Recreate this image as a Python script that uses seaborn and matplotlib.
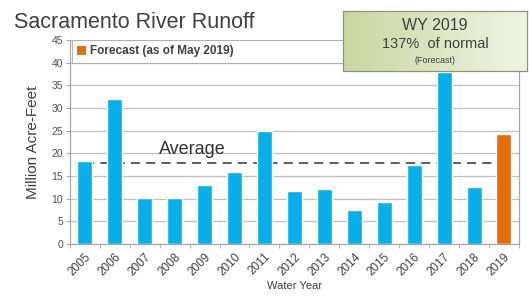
import numpy as np
import pandas as pd
import seaborn as sns
import matplotlib.pyplot as plt
from matplotlib.patches import Patch
from matplotlib.colors import LinearSegmentedColormap

years = ['2005', '2006', '2007', '2008', '2009', '2010', '2011', '2012',
         '2013', '2014', '2015', '2016', '2017', '2018', '2019']
runoff = [18.3, 32.0, 10.2, 10.2, 13.0, 16.0, 25.0, 11.8,
          12.2, 7.5, 9.2, 17.5, 37.9, 12.7, 24.3]
kind = ['Observed'] * 14 + ['Forecast']
average = 18.0
y_ticks = [0, 5, 10, 15, 20, 25, 30, 35, 40, 45]


def main():
    df = pd.DataFrame({'Year': years, 'Runoff': runoff, 'Kind': kind})

    sns.set_style('white')
    plt.rcParams['font.family'] = ['Liberation Sans', 'DejaVu Sans']

    fig = plt.figure(figsize=(5.29, 3.04), dpi=100)
    ax = fig.add_axes([0.132, 0.197, 0.849, 0.671])

    palette = {'Observed': '#0AAEEA', 'Forecast': '#E46C0A'}
    sns.barplot(data=df, x='Year', y='Runoff', hue='Kind', palette=palette,
                width=0.5, dodge=False, legend=False, ax=ax, zorder=3,
                saturation=1)

    # average line behind the bars
    ax.plot([0, len(years) - 1], [average, average], ls=(0, (6, 4)),
            color='#333333', lw=1.1, zorder=2)
    ax.text(3.6, average + 1.0, 'Average', fontsize=13, color='#333333',
            ha='center', va='bottom', zorder=4)

    ax.set_ylim(0, 45)
    ax.set_xlim(-0.5, len(years) - 0.5)
    ax.set_yticks(y_ticks)
    ax.yaxis.grid(True, color='#BFBFBF', lw=0.9, zorder=0)
    ax.set_axisbelow(True)
    ax.spines['top'].set_visible(False)
    for s in ['left', 'bottom', 'right']:
        ax.spines[s].set_color('#A6A6A6')
        ax.spines[s].set_linewidth(0.9)

    ax.tick_params(axis='y', labelsize=7.5, colors='#A6A6A6', labelcolor='#505050',
                   length=3, left=True, pad=2)
    ax.tick_params(axis='x', labelsize=8.5, labelcolor='#404040', length=0, pad=5)
    ax.set_xticks(np.arange(-0.5, len(years) + 0.5, 1), minor=True)
    ax.tick_params(axis='x', which='minor', length=3, colors='#A6A6A6',
                   bottom=True)
    plt.setp(ax.get_xticklabels(), rotation=45, ha='right',
             rotation_mode='anchor')

    ax.set_xlabel('Water Year', fontsize=8, color='#404040', labelpad=2)
    ax.set_ylabel('Million Acre-Feet', fontsize=11, color='#404040', labelpad=8)

    handle = Patch(facecolor='#E46C0A', edgecolor='none')
    leg = ax.legend([handle], ['Forecast (as of May 2019)'], loc='upper left',
                    bbox_to_anchor=(0.004, 0.0, 0.62, 1.0), mode='expand',
                    frameon=True, fancybox=False,
                    prop={'weight': 'bold', 'size': 8.5}, handlelength=0.8,
                    handleheight=0.8, handletextpad=0.3, borderpad=0.45,
                    borderaxespad=0.0)
    leg.get_frame().set_edgecolor('#A6A6A6')
    leg.get_frame().set_linewidth(0.8)
    for t in leg.get_texts():
        t.set_color('#404040')

    fig.text(0.026, 0.925, 'Sacramento River Runoff', fontsize=15.5,
             color='#404040', ha='left', va='center')

    # callout box with green gradient
    box = fig.add_axes([343 / 529, 1 - 71 / 304, 184 / 529, 60 / 304])
    grad = np.linspace(0, 1, 256).reshape(1, -1)
    cmap = LinearSegmentedColormap.from_list('g', ['#C9D6A3', '#F0F4E2'])
    box.imshow(grad, aspect='auto', cmap=cmap, extent=[0, 1, 0, 1])
    box.set_xticks([])
    box.set_yticks([])
    for s in box.spines.values():
        s.set_color('#8C9670')
        s.set_linewidth(0.9)
    box.text(0.5, 0.75, 'WY 2019', fontsize=11.5, ha='center', va='center',
             color='#404040')
    box.text(0.5, 0.45, '137%  of normal', fontsize=10.5, ha='center',
             va='center', color='#404040')
    box.text(0.5, 0.17, '(Forecast)', fontsize=6.5, ha='center', va='center',
             color='#404040')

    fig.savefig('out.png', dpi=100)


if __name__ == '__main__':
    main()
